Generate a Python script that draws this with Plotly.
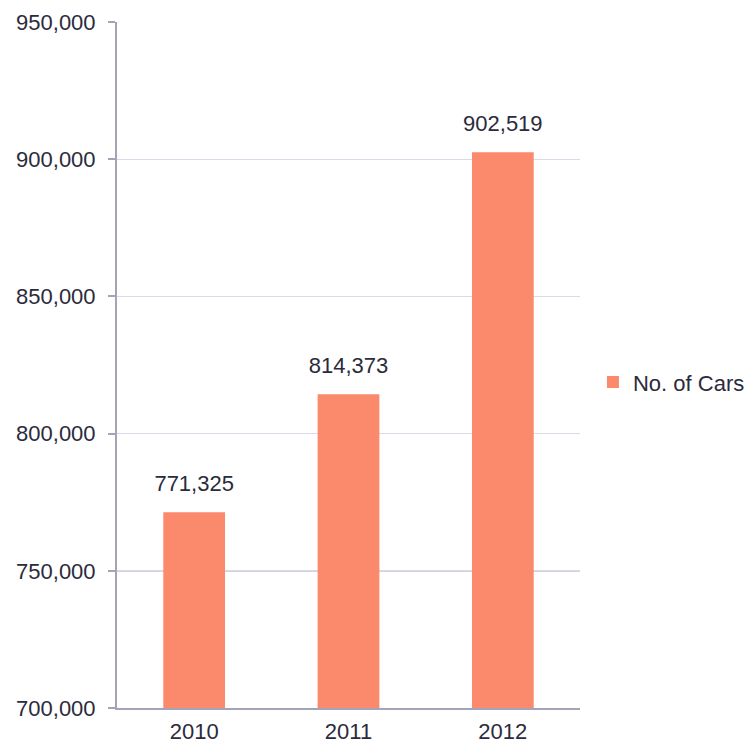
import plotly.graph_objects as go

years = ["2010", "2011", "2012"]
cars = [771325, 814373, 902519]
y_ticks = [700000, 750000, 800000, 850000, 900000, 950000]

bar_color = "#fa8a6b"
text_color = "#2b2b3b"
axis_color = "#a4a4b8"
font_family = "Liberation Sans, Arial, sans-serif"
font_size = 22

fig = go.Figure()
fig.add_trace(go.Bar(
    x=years,
    y=cars,
    name="No. of Cars",
    marker=dict(color=bar_color, line=dict(width=0)),
    showlegend=True,
))

# value labels above each bar (invisible anchor markers lift the text)
fig.add_trace(go.Scatter(
    x=years,
    y=cars,
    mode="markers+text",
    marker=dict(size=24, opacity=0),
    text=[f"{v:,}" for v in cars],
    textposition="top center",
    textfont=dict(size=font_size, color=text_color, family=font_family),
    cliponaxis=False,
    showlegend=False,
    hoverinfo="skip",
))

# slightly stronger rule at 750,000
fig.add_shape(
    type="line", xref="paper", x0=0, x1=1, yref="y",
    y0=y_ticks[1], y1=y_ticks[1],
    line=dict(color="#a8a8bc", width=1.5), layer="below",
)

fig.update_layout(
    width=747,
    height=744,
    margin=dict(l=117, r=167, t=22, b=36, autoexpand=False),
    paper_bgcolor="white",
    plot_bgcolor="white",
    bargap=0.6,
    font=dict(family=font_family, size=font_size, color=text_color),
    showlegend=True,
    legend=dict(
        x=1.028, y=0.475, xanchor="left", yanchor="middle",
        font=dict(size=font_size, color=text_color),
        itemwidth=30,
        bgcolor="rgba(0,0,0,0)",
    ),
    xaxis=dict(
        type="category",
        automargin=False,
        showline=True, linecolor=axis_color, linewidth=2,
        ticks="", showgrid=False,
        tickfont=dict(size=font_size, color=text_color),
        ticklabelstandoff=3,
    ),
    yaxis=dict(
        automargin=False,
        range=[700000, 950000],
        tickvals=y_ticks,
        tickformat=",d",
        showline=True, linecolor=axis_color, linewidth=2,
        ticks="outside", ticklen=7, tickcolor=axis_color, tickwidth=1.5,
        showgrid=True, gridcolor="#dadae8", gridwidth=1,
        zeroline=False,
        tickfont=dict(size=font_size, color=text_color),
        ticklabelstandoff=8,
    ),
)

fig.write_html("out.html")
